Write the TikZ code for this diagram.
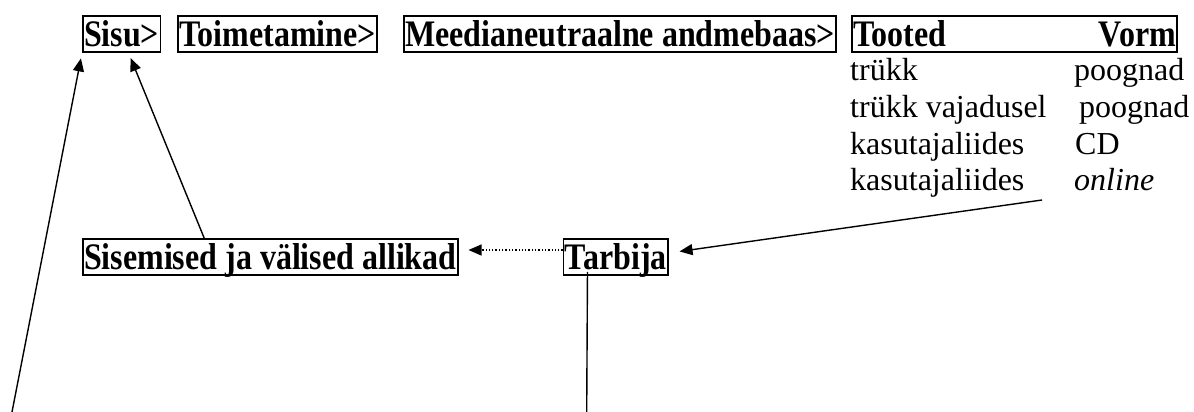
\documentclass[tikz,border=0pt]{standalone}
\usepackage{fontspec}
\usepackage{graphicx}
\setmainfont{Liberation Serif}
\usetikzlibrary{arrows.meta}
\newcommand\tallbf[1]{\scalebox{1}[1.17]{#1}}
\begin{document}
\begin{tikzpicture}[x=1pt,y=-1pt,
  box/.style={draw, line width=1.6pt, inner ysep=0pt, inner xsep=1.2pt,
    text height=30.5pt, text depth=5.5pt, anchor=base west,
    font=\fontsize{32}{36}\selectfont\bfseries},
  item/.style={inner sep=0pt, anchor=base west, font=\fontsize{32}{36}\selectfont},
  arr/.style={line width=1.4pt, -{Triangle[length=13pt,width=11pt]}},
  dotarr/.style={line width=1.3pt, dotted, -{Triangle[length=13pt,width=11pt]}}]
\useasboundingbox (0,0) rectangle (1194,412);
% top row
\node[box] (sisu) at (82,46.7) {\tallbf{Sisu>}};
\node[box] (toim) at (177.3,46.7) {\tallbf{Toimetamine>}};
\node[box] (meed) at (403.3,46.7) {\tallbf{Meedianeutraalne andmebaas>}};
\node[box, text width=323pt] (toot) at (851,46.7) {\tallbf{Tooted}\hfill\tallbf{Vorm}};
% list
\node[item] (l1) at (850,81) {trükk};
\node[item] (l2) at (850,117.5) {trükk vajadusel};
\node[item] (l3) at (850,154) {kasutajaliides};
\node[item] (l4) at (850,190.5) {kasutajaliides};
\node[item] (r1) at (1074,81) {poognad};
\node[item] (r2) at (1079,117.5) {poognad};
\node[item] (r3) at (1075,154) {CD};
\node[item] (r4) at (1074,190.5) {\itshape online};
% lower boxes
\node[box] (src) at (82,269.5) {\tallbf{Sisemised ja välised allikad}};
\node[box] (tarb) at (562.7,269.5) {\tallbf{Tarbija}};
% coordinates
\coordinate (lstart) at (12,412);
\coordinate (ostart) at (1042,200);
\coordinate (vend) at (586.7,412);
% connectors
\draw[arr, shorten >=5.5pt] (lstart) -- (sisu.south west);
\draw[arr, shorten >=5.5pt] ([xshift=-66pt]src.north) -- ([xshift=7pt]sisu.south);
\draw[dotarr, shorten >=10pt] ([yshift=7pt]tarb.west) -- ([yshift=7pt]src.east);
\draw[arr, shorten >=11pt] (ostart) -- ([yshift=4pt]tarb.east);
\draw[line width=1.4pt] ([xshift=-28.2pt,yshift=4pt]tarb.south) -- (vend);
\end{tikzpicture}
\end{document}
